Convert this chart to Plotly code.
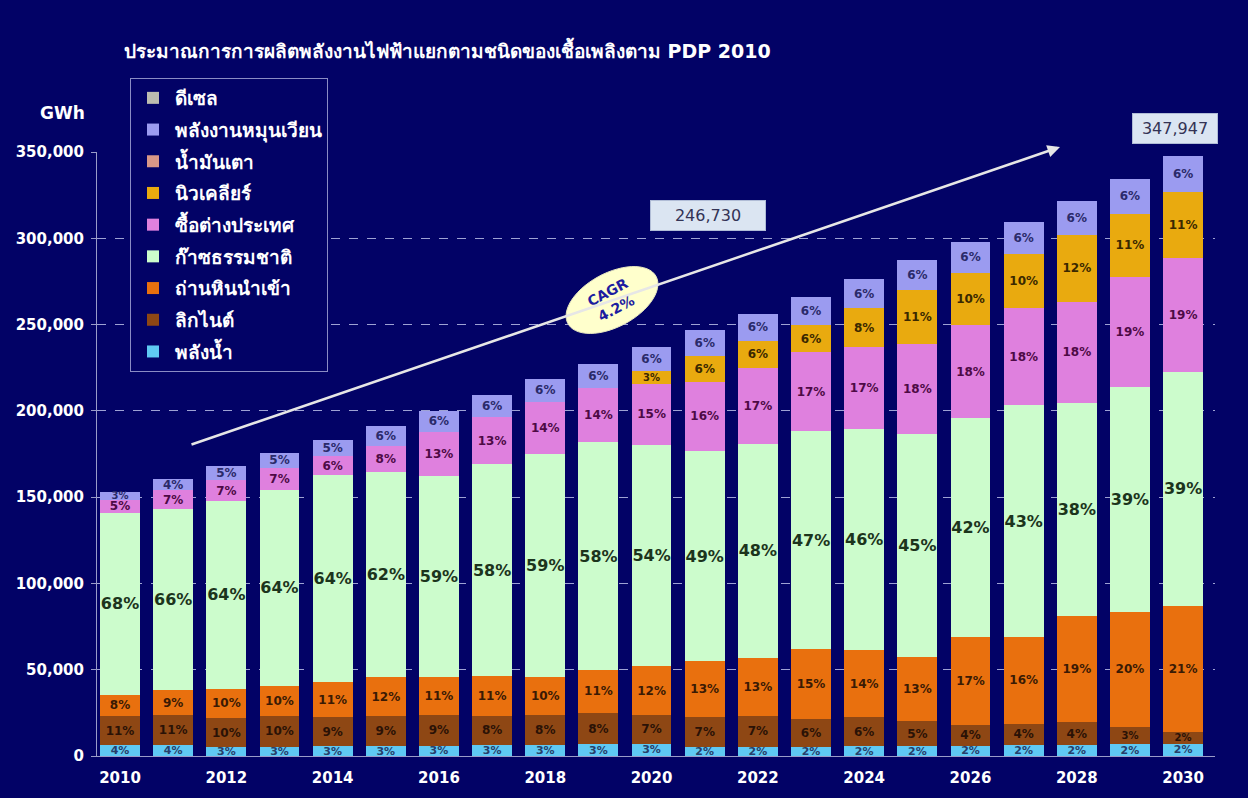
import numpy as np
import plotly.graph_objects as go

# ---------------- data ----------------
years = list(range(2010, 2031))
totals = [153100, 160500, 168200, 175700, 183100, 191200, 199900, 209200, 218400, 227100,
          237100, 246730, 256100, 266100, 276200, 287400, 298000, 309400, 321600, 334300, 347947]

hydro_pct = [4, 4, 3, 3, 3, 3, 3, 3, 3, 3, 3, 2, 2, 2, 2, 2, 2, 2, 2, 2, 2]
lignite_pct = [11, 11, 10, 10, 9, 9, 9, 8, 8, 8, 7, 7, 7, 6, 6, 5, 4, 4, 4, 3, 2]
coal_pct = [8, 9, 10, 10, 11, 12, 11, 11, 10, 11, 12, 13, 13, 15, 14, 13, 17, 16, 19, 20, 21]
gas_pct = [68, 66, 64, 64, 64, 62, 59, 58, 59, 58, 54, 49, 48, 47, 46, 45, 42, 43, 38, 39, 39]
import_pct = [5, 7, 7, 7, 6, 8, 13, 13, 14, 14, 15, 16, 17, 17, 17, 18, 18, 18, 18, 19, 19]
nuclear_pct = [0, 0, 0, 0, 0, 0, 0, 0, 0, 0, 3, 6, 6, 6, 8, 11, 10, 10, 12, 11, 11]
oil_pct = [0] * 21
renew_pct = [3, 4, 5, 5, 5, 6, 6, 6, 6, 6, 6, 6, 6, 6, 6, 6, 6, 6, 6, 6, 6]
diesel_pct = [0] * 21

tick_years = list(range(2010, 2031, 2))

names = {
    "hydro": "พลังน้ำ",
    "lignite": "ลิกไนต์",
    "coal": "ถ่านหินนำเข้า",
    "gas": "ก๊าซธรรมชาติ",
    "import": "ซื้อต่างประเทศ",
    "nuclear": "นิวเคลียร์",
    "oil": "น้ำมันเตา",
    "renew": "พลังงานหมุนเวียน",
    "diesel": "ดีเซล",
}

series = [
    ("hydro", hydro_pct, "#5fc9f3", "#27406a", 11),
    ("lignite", lignite_pct, "#8e4714", "#2a1206", 12),
    ("coal", coal_pct, "#e9700e", "#3a1a04", 12),
    ("gas", gas_pct, "#ccfccc", "#1c341c", 16),
    ("import", import_pct, "#df80de", "#4d0a45", 12),
    ("nuclear", nuclear_pct, "#e9aa0f", "#3a2800", 12),
    ("oil", oil_pct, "#d99888", "#333333", 12),
    ("renew", renew_pct, "#9b9bf0", "#2a2a6a", 12),
    ("diesel", diesel_pct, "#bdbdb0", "#333333", 12),
]

pct_sum = np.sum([s[1] for s in series], axis=0)
totals_arr = np.array(totals, dtype=float)

BG = "#020266"
FONT = "Tahoma, 'DejaVu Sans', sans-serif"
NUMFONT = "'DejaVu Sans', sans-serif"

fig = go.Figure()
n = len(series)
for i, (key, pct, color, tcolor, tsize) in enumerate(series):
    pct_arr = np.array(pct, dtype=float)
    vals = totals_arr * pct_arr / pct_sum
    text = [f"{p}%" if p > 0 else "" for p in pct]
    # thin segments get a slightly smaller label so neighbours don't collide
    sizes = [tsize if (p >= 4 or key in ("hydro",)) else min(tsize, 10) for p in pct]
    fig.add_trace(go.Bar(
        x=years, y=vals, name=names[key], marker=dict(color=color, line=dict(width=0)),
        text=text, textposition="inside", insidetextanchor="middle", constraintext="none",
        textangle=0,
        textfont=dict(color=tcolor, size=sizes, family=NUMFONT, weight="bold"),
        legendgroup=key, legendrank=100 + (n - i) * 10, hoverinfo="skip",
    ))

fig.update_layout(
    barmode="stack", bargap=0.25,
    width=1248, height=798,
    paper_bgcolor=BG, plot_bgcolor=BG,
    margin=dict(l=97, r=33, t=152, b=42),
    font=dict(family=FONT, color="white"),
    showlegend=True,
    legend=dict(
        x=0.0295, y=1.1225, xanchor="left", yanchor="top",
        bgcolor=BG, bordercolor="#8a8cc4", borderwidth=1,
        font=dict(size=19, color="white", family=FONT, weight="bold"),
        traceorder="grouped", tracegroupgap=4, itemwidth=34,
        itemclick=False,
    ),
    xaxis=dict(
        range=[2009.567, 2030.6], tickvals=tick_years, ticktext=[str(y) for y in tick_years],
        showgrid=False, zeroline=False, showline=True, linecolor="#9a9cc8", linewidth=1,
        ticks="", ticklabelstandoff=8,
        tickfont=dict(size=15, color="white", family=NUMFONT, weight="bold"),
    ),
    yaxis=dict(
        range=[0, 350000], tickvals=list(range(0, 350001, 50000)), tickformat=",",
        showgrid=True, gridcolor="#9ea2d4", griddash="dash", gridwidth=1,
        zeroline=False, showline=True, linecolor="#9a9cc8", linewidth=1,
        ticks="outside", ticklen=5, tickcolor="#9a9cc8", ticklabelstandoff=4,
        tickfont=dict(size=15, color="white", family=NUMFONT, weight="bold"),
    ),
)

W, H_, L, T = 1118.0, 604.0, 97.0, 152.0


def px2paper(x, y):
    return (x - L) / W, (T + H_ - y) / H_


# rotated ellipse for CAGR
cx, cy, a, b, ang = 612.0, 300.0, 50.0, 27.0, np.deg2rad(-28)
th = np.linspace(0, 2 * np.pi, 60)
ex = cx + a * np.cos(th) * np.cos(ang) - b * np.sin(th) * np.sin(ang)
ey = cy + a * np.cos(th) * np.sin(ang) + b * np.sin(th) * np.cos(ang)
pts = [px2paper(x, y) for x, y in zip(ex, ey)]
path = "M " + " L ".join(f"{p[0]:.5f},{p[1]:.5f}" for p in pts) + " Z"
fig.add_shape(type="path", path=path, xref="paper", yref="paper",
              fillcolor="#ffffcc", line=dict(color="#e8e8c0", width=1), layer="above")

hx, hy = px2paper(1060, 147)
fig.add_annotation(x=hx, y=hy, xref="paper", yref="paper", text="", showarrow=True,
                   ax=190 - 1060, ay=445 - 147, arrowcolor="#e6e6e6", arrowwidth=2.5,
                   arrowhead=2, arrowsize=1)

ccx, ccy = px2paper(cx, cy)
fig.add_annotation(x=ccx, y=ccy, xref="paper", yref="paper", text="<b>CAGR<br>4.2%</b>",
                   showarrow=False, textangle=-28, xanchor="center", yanchor="middle",
                   font=dict(size=14, color="#1c1ca0", family=NUMFONT))

bx, by = px2paper(708, 215)
fig.add_annotation(x=bx, y=by, xref="paper", yref="paper", text=f"{totals[11]:,}",
                   showarrow=False, xanchor="center", yanchor="middle",
                   bgcolor="#dbe5f2", bordercolor="#b0bcd6", borderwidth=1,
                   borderpad=5, width=104, font=dict(size=16, color="#333355", family=NUMFONT))
bx, by = px2paper(1175, 128)
fig.add_annotation(x=bx, y=by, xref="paper", yref="paper", text=f"{totals[-1]:,}",
                   showarrow=False, xanchor="center", yanchor="middle",
                   bgcolor="#dbe5f2", bordercolor="#b0bcd6", borderwidth=1,
                   borderpad=5, width=74, font=dict(size=16, color="#333355", family=NUMFONT))

gx, gy = px2paper(62, 113)
fig.add_annotation(x=gx, y=gy, xref="paper", yref="paper", text="<b>GWh</b>", showarrow=False,
                   xanchor="center", yanchor="middle",
                   font=dict(size=17, color="white", family=NUMFONT))

tx, ty = px2paper(447, 50)
fig.add_annotation(x=tx, y=ty, xref="paper", yref="paper",
                   text="<b>ประมาณการการผลิตพลังงานไฟฟ้าแยกตามชนิดของเชื้อเพลิงตาม PDP 2010</b>",
                   showarrow=False, xanchor="center", yanchor="middle",
                   font=dict(size=19, color="white", family=FONT))

fig.write_html("out.html", config={"displayModeBar": False},
               post_script="document.body.style.margin='0';")
